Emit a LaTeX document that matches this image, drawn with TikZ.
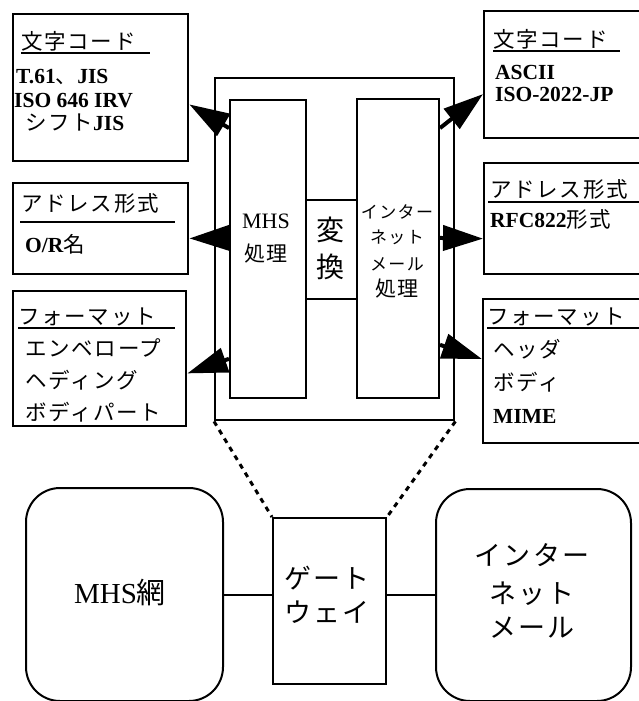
\documentclass[tikz,border=0pt]{standalone}
\usepackage{fontspec}
\setmainfont{Liberation Serif}
\newfontfamily\jp[LetterSpace=8]{Noto Sans CJK JP}
\usetikzlibrary{arrows.meta,calc}
\begin{document}
\begin{tikzpicture}[x=1pt,y=-1pt,
  sidebox/.style={draw, line width=2.4pt, anchor=north west, inner sep=0pt},
  procbox/.style={draw, line width=2pt, anchor=north west, inner sep=0pt},
  netbox/.style={draw, line width=2pt, anchor=north west, inner sep=0pt, rounded corners=34pt},
  lbl/.style={anchor=base west, inner sep=0pt, font=\fontsize{21.5}{21.5}\selectfont\bfseries},
  clbl/.style={anchor=base, inner sep=0pt},
  uline/.style={line width=1.6pt},
  arr/.style={line width=4pt, -{Triangle[length=40pt,width=25pt]}},
  dotl/.style={line width=3pt, dash pattern=on 5pt off 5pt},
  conn/.style={line width=2pt}]
\useasboundingbox (0,0) rectangle (639,701);
\clip (0,0) rectangle (639,701);
\fill[white] (0,0) rectangle (639,701);

% left boxes
\node[sidebox, minimum width=175pt, minimum height=147pt] (lc) at (12,13) {};
\node[sidebox, minimum width=175pt, minimum height=91pt] (la) at (12,182) {};
\node[sidebox, minimum width=173pt, minimum height=135pt] (lf) at (12,290) {};
% right boxes
\node[sidebox, minimum width=170pt, minimum height=127pt] (rc) at (483,10) {};
\node[sidebox, minimum width=170pt, minimum height=111pt] (ra) at (483,162) {};
\node[sidebox, minimum width=170pt, minimum height=144pt] (rf) at (482,298) {};

% middle
\node[procbox, line width=2.4pt, minimum width=239pt, minimum height=342pt] (outer) at (214,77) {};
\node[procbox, minimum width=76pt, minimum height=298pt] (mhs) at (229,99) {};
\node[procbox, minimum width=82pt, minimum height=299pt] (inet) at (356,98) {};
\node[procbox, minimum width=51pt, minimum height=99pt] (conv) at (305,199) {};

% bottom
\node[netbox, minimum width=197pt, minimum height=213pt] (mhsnet) at (25,487) {};
\node[procbox, minimum width=113pt, minimum height=166pt] (gw) at (272,517) {};
\node[netbox, minimum width=195pt, minimum height=212pt] (inmail) at (435,488) {};

% left box texts
\node[lbl] (t1) at (21,49) {\jp\mdseries 文字コード};
\draw[uline] (21,53) -- (150,53);
\node[lbl] (t2) at (16,84) {T.61{\jp\mdseries 、}JIS};
\node[lbl] (t3) at (14,107) {ISO 646 IRV};
\node[lbl] (t4) at (25,130) {{\jp\mdseries シフト}JIS};

\node[lbl] (t5) at (21,211) {\jp\mdseries アドレス形式};
\draw[uline] (20,222) -- (175,222);
\node[lbl] (t6) at (25,252) {O/R{\jp\mdseries 名}};

\node[lbl] (t7) at (18,324) {\jp\mdseries フォーマット};
\draw[uline] (18,328) -- (175,328);
\node[lbl] (t8) at (25,356) {\jp\mdseries エンベロープ};
\node[lbl] (t9) at (25,388) {\jp\mdseries ヘディング};
\node[lbl] (t10) at (25,420) {\jp\mdseries ボディパート};

% right box texts
\node[lbl] (r1) at (493,48) {\jp\mdseries 文字コード};
\draw[uline] (493,51) -- (620,51);
\node[lbl] (r2) at (495,79) {ASCII};
\node[lbl] (r3) at (495,101) {ISO-2022-JP};

\node[lbl] (r4) at (490,197) {\jp\mdseries アドレス形式};
\draw[uline] (488,202) -- (645,202);
\node[lbl] (r5) at (490,227) {RFC822{\jp\mdseries 形式}};

\node[lbl] (r6) at (487,324) {\jp\mdseries フォーマット};
\draw[uline] (487,328) -- (645,328);
\node[lbl] (r7) at (493,357) {\jp\mdseries ヘッダ};
\node[lbl] (r8) at (493,390) {\jp\mdseries ボディ};
\node[lbl] (r9) at (493,423) {MIME};

% middle texts
\node[clbl, font=\fontsize{22}{22}\selectfont] (m1) at (266,228) {MHS};
\node[clbl, font=\fontsize{21}{21}\selectfont\jp] (m2) at (266,261) {処理};
\node[clbl, font=\fontsize{28}{28}\selectfont\jp] (c1) at (330,240) {変};
\node[clbl, font=\fontsize{28}{28}\selectfont\jp] (c2) at (330,277) {換};
\node[clbl, font=\fontsize{17}{17}\selectfont\jp] (i1) at (397,218) {インター};
\node[clbl, font=\fontsize{17}{17}\selectfont\jp] (i2) at (397,243) {ネット};
\node[clbl, font=\fontsize{17}{17}\selectfont\jp] (i3) at (397,270) {メール};
\node[clbl, font=\fontsize{21}{21}\selectfont\jp] (i4) at (397,296) {処理};

% bottom texts
\node[clbl, font=\fontsize{29}{29}\selectfont] (b1) at (120,603) {MHS{\jp 網}};
\node[clbl, font=\fontsize{27}{27}\selectfont\jp] (g1) at (327,588) {ゲート};
\node[clbl, font=\fontsize{27}{27}\selectfont\jp] (g2) at (327,622) {ウェイ};
\node[clbl, font=\fontsize{27}{27}\selectfont\jp] (n1) at (532,565) {インター};
\node[clbl, font=\fontsize{27}{27}\selectfont\jp] (n2) at (532,603) {ネット};
\node[clbl, font=\fontsize{27}{27}\selectfont\jp] (n3) at (532,637) {メール};

% arrows left
\draw[arr] ($(mhs.north west)!0.097!(mhs.south west)$) -- ($(lc.north east)!0.612!(lc.south east)$);
\draw[arr] ($(mhs.north west)!0.463!(mhs.south west)$) -- ($(la.north east)!0.604!(la.south east)$);
\draw[arr] ($(mhs.north west)!0.866!(mhs.south west)$) -- ($(lf.north east)!0.607!(lf.south east)$);
% arrows right
\draw[arr] ($(inet.north east)!0.10!(inet.south east)$) -- ($(rc.north west)!0.65!(rc.south west)$);
\draw[arr] ($(inet.north east)!0.465!(inet.south east)$) -- ($(ra.north west)!0.676!(ra.south west)$);
\draw[arr] ($(inet.north east)!0.82!(inet.south east)$) -- ($(rf.north west)!0.417!(rf.south west)$);

% dotted
\draw[dotl] (outer.south west) -- (gw.north west);
\draw[dotl] (outer.south east) -- (gw.north east);

% connectors
\draw[conn] (mhsnet.east) -- (gw.west |- mhsnet.east);
\draw[conn] (gw.east |- inmail.west) -- (inmail.west);
\end{tikzpicture}
\end{document}
